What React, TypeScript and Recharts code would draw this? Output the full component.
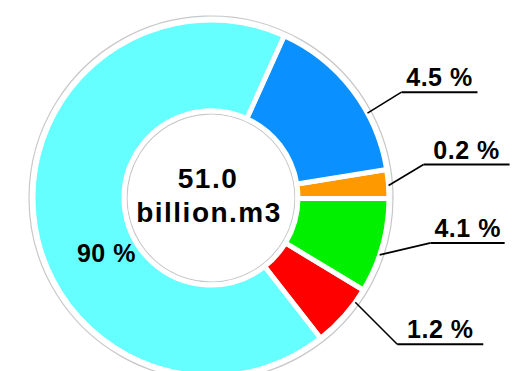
import { PieChart, Pie, Cell, Label } from 'recharts';

// slice shares as drawn (percent of the ring), counter-clockwise from the red/cyan edge
const segments = ['red', 'green', 'orange', 'blue', 'cyan'];
const shares = [5.8, 8.6, 2.6, 15.7, 67.3];
const labelTexts = ['1.2 %', '4.1 %', '0.2 %', '4.5 %', '90 %'];
const totalValue = '51.0';
const totalUnit = 'billion.m3';

const COLORS = ['#ff0000', '#00f000', '#ff9900', '#0a90ff', '#66ffff'];
const FONT = '"Liberation Sans", Arial, sans-serif';
const CX = 206;
const CY = 193;

// leader line layout for the outside labels: angle nudge, elbow offset, underline length
const LEADERS = [
  { nudge: 5.7, dx: 42, dy: 42, len: 86 },
  { nudge: -3, dx: 51, dy: -12, len: 74 },
  { nudge: -0.5, dx: 35, dy: -21, len: 86 },
  { nudge: -9, dx: 34, dy: -21, len: 76 },
];

const data = segments.map((name, i) => ({ name, value: shares[i], text: labelTexts[i] }));
const ring = [{ name: 'total', value: shares.reduce((a, b) => a + b, 0) }];

const RAD = Math.PI / 180;

function renderLabel(props: any) {
  const { cx, cy, midAngle, innerRadius, outerRadius, index } = props;
  const text = data[index].text;
  const lay = LEADERS[index];
  if (!lay) {
    // big slice: label sits inside the ring
    const a = (midAngle + 20.7) * RAD;
    const r = innerRadius + 31;
    return (
      <text x={cx + r * Math.cos(a)} y={cy - r * Math.sin(a) + 9} textAnchor="middle"
        fontFamily={FONT} fontWeight="bold" fontSize={25} letterSpacing={0.5} fill="#000">
        {text}
      </text>
    );
  }
  const a = (midAngle + lay.nudge) * RAD;
  const sx = cx + outerRadius * Math.cos(a);
  const sy = cy - outerRadius * Math.sin(a);
  const ex = sx + lay.dx;
  const ey = sy + lay.dy;
  return (
    <g>
      <polyline points={`${sx},${sy} ${ex},${ey}`} stroke="#000" strokeWidth={1.6} fill="none" />
      <line x1={ex} y1={ey} x2={ex + lay.len} y2={ey} stroke="#000" strokeWidth={2} />
      <text x={ex + lay.len / 2} y={ey - 6} textAnchor="middle" fontFamily={FONT}
        fontWeight="bold" fontSize={25} letterSpacing={0.5} fill="#000">
        {text}
      </text>
    </g>
  );
}

function CenterText() {
  return (
    <g fontFamily={FONT} fontWeight="bold" fontSize={28} letterSpacing={1.5} fill="#000">
      <text x={CX + 2} y={CY - 5} textAnchor="middle">{totalValue}</text>
      <text x={CX + 3} y={CY + 29} textAnchor="middle">{totalUnit}</text>
    </g>
  );
}

export default function App() {
  return (
    <div style={{ position: 'absolute', left: 0, top: 0, width: 513, height: 371, background: '#fff' }}>
      <PieChart width={513} height={371}>
        <Pie data={ring} dataKey="value" cx={CX} cy={CY} innerRadius={84} outerRadius={182}
          fill="#fff" stroke="#c8c8c8" strokeWidth={1.2} isAnimationActive={false} />
        <Pie data={data} dataKey="value" nameKey="name" cx={CX} cy={CY}
          innerRadius={87} outerRadius={178} startAngle={-52} endAngle={308}
          stroke="#fff" strokeWidth={5} label={renderLabel} labelLine={false}
          isAnimationActive={false}>
          {data.map((d, i) => <Cell key={d.name} fill={COLORS[i]} />)}
          <Label position="center" content={<CenterText />} />
        </Pie>
      </PieChart>
    </div>
  );
}
